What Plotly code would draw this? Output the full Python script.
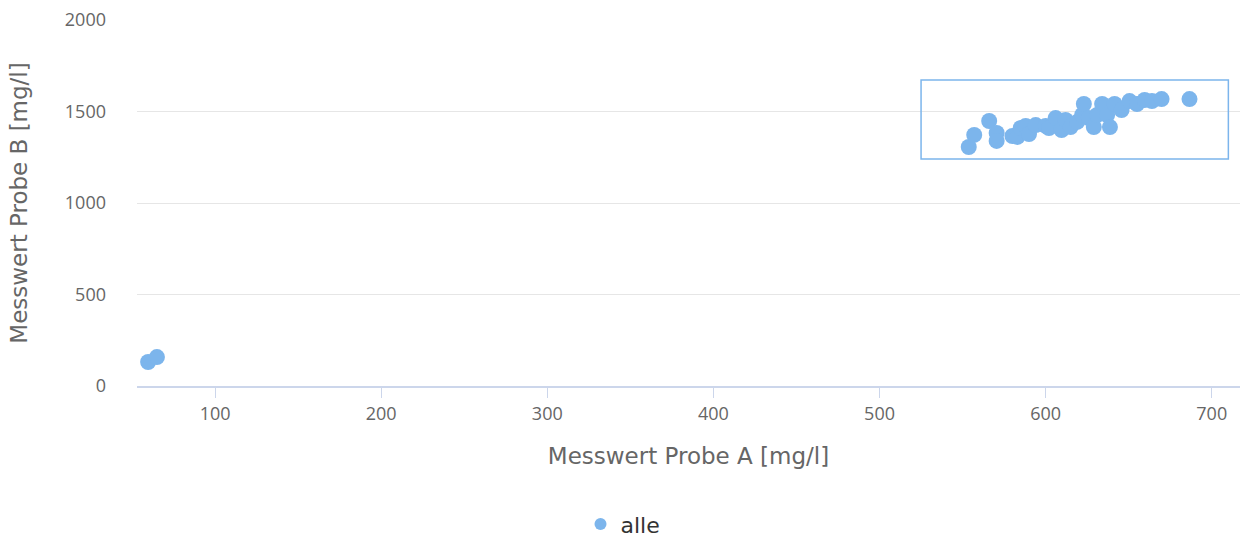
import plotly.graph_objects as go

# Measured values: sample A vs. sample B, both in mg/l
probe_a = [59.7, 65.0,
           553.7, 557.0, 566.0, 570.5, 570.5, 580.0, 583.0, 585.0, 588.0, 590.0,
           594.0, 600.0, 602.0, 606.0, 609.6, 612.0, 615.0, 619.0, 622.0, 623.0,
           626.0, 629.0, 631.0, 634.0, 637.0, 638.7, 641.5, 645.7, 650.5, 655.0,
           659.6, 664.0, 669.8, 686.6]
probe_b = [131, 158,
           1306, 1372, 1448, 1383, 1339, 1366, 1361, 1410, 1421, 1377,
           1426, 1421, 1410, 1464, 1399, 1454, 1415, 1443, 1481, 1541,
           1464, 1415, 1481, 1541, 1481, 1415, 1541, 1508, 1557, 1541,
           1563, 1557, 1568, 1568]

# Highlighted region around the main cluster (data units)
box_a = [525, 710]
box_b = [1240, 1672]

TICK_FONT = "Open Sans, Noto Sans, sans-serif"
TITLE_FONT = "DejaVu Sans, sans-serif"

fig = go.Figure()
fig.add_trace(go.Scatter(
    x=probe_a, y=probe_b, mode="markers", name="alle",
    marker=dict(size=16, color="#7cb5ec", line=dict(width=0)),
    showlegend=True,
))

fig.add_shape(type="rect", xref="x", yref="y",
              x0=box_a[0], x1=box_a[1], y0=box_b[0], y1=box_b[1],
              line=dict(color="#7cb5ec", width=1.5), fillcolor="rgba(0,0,0,0)")

fig.update_layout(
    width=1246, height=537,
    margin=dict(l=137, r=6, t=20, b=151),
    paper_bgcolor="white", plot_bgcolor="white",
    font=dict(family=TICK_FONT, color="#666666", size=18),
    showlegend=True,
    legend=dict(orientation="h", xref="container", yref="container",
                x=0.5, xanchor="center", y=0.024, yanchor="middle",
                font=dict(family=TITLE_FONT, size=22, color="#333333"),
                itemsizing="constant"),
    xaxis=dict(range=[53, 717], tickvals=[100, 200, 300, 400, 500, 600, 700],
               showgrid=False, zeroline=False,
               showline=True, linecolor="#ccd6eb", linewidth=2,
               ticks="outside", ticklen=10, tickcolor="#ccd6eb", tickwidth=1,
               tickfont=dict(family=TICK_FONT, size=18, color="#666666"),
               title=dict(text="Messwert Probe A [mg/l]",
                          font=dict(family=TITLE_FONT, size=23, color="#666666"),
                          standoff=24)),
    yaxis=dict(range=[0, 2000], tickvals=[0, 500, 1000, 1500, 2000],
               showgrid=True, gridcolor="#e6e6e6", gridwidth=1,
               zeroline=False, showline=False, ticks="",
               ticklabelstandoff=30,
               tickfont=dict(family=TICK_FONT, size=18, color="#666666"),
               title=dict(text="Messwert Probe B [mg/l]",
                          font=dict(family=TITLE_FONT, size=23, color="#666666"),
                          standoff=30)),
)

fig.write_html("out.html")
